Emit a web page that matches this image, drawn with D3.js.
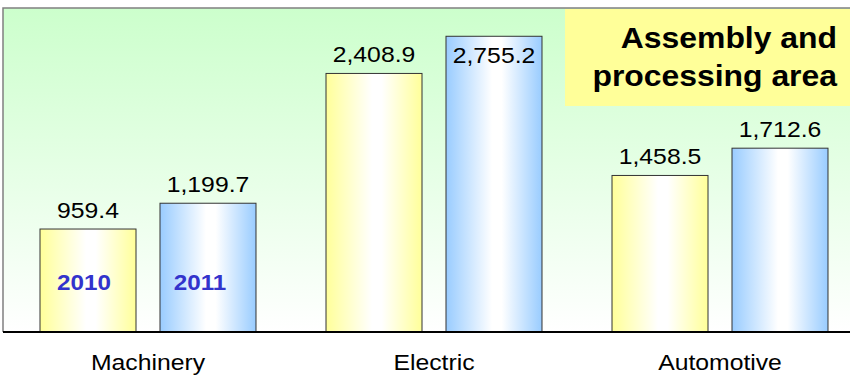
<!DOCTYPE html>
<html><head><meta charset="utf-8">
<script src="https://cdn.jsdelivr.net/npm/d3@7"></script>
<style>html,body{margin:0;padding:0;background:#fff;}svg{display:block;font-family:"Liberation Sans",Arial,sans-serif;}</style>
</head><body><svg id="c" width="850" height="377"></svg>
<script>
const categories = ["Machinery", "Electric", "Automotive"];
const years = ["2010", "2011"];
const values2010 = [959.4, 2408.9, 1458.5];
const values2011 = [1199.7, 2755.2, 1712.6];
const titleLines = ["Assembly and", "processing area"];

const svg = d3.select("#c");
const plot = {left: 3, top: 8, right: 850, bottom: 332};

const defs = svg.append("defs");
const bg = defs.append("linearGradient").attr("id","bg").attr("x1",0).attr("y1",0).attr("x2",0).attr("y2",1);
bg.append("stop").attr("offset","0%").attr("stop-color","#ccffcc");
bg.append("stop").attr("offset","100%").attr("stop-color","#ffffff");
function hgrad(id, c){
  const g = defs.append("linearGradient").attr("id",id).attr("x1",0).attr("y1",0).attr("x2",1).attr("y2",0);
  g.append("stop").attr("offset","0%").attr("stop-color",c);
  g.append("stop").attr("offset","48%").attr("stop-color","#ffffff");
  g.append("stop").attr("offset","58%").attr("stop-color","#ffffff");
  g.append("stop").attr("offset","100%").attr("stop-color",c);
}
hgrad("gy","#ffff99");
hgrad("gb","#99ccff");

svg.append("rect").attr("x",plot.left).attr("y",plot.top).attr("width",plot.right-plot.left).attr("height",plot.bottom-plot.top).attr("fill","url(#bg)");
svg.append("path").attr("d",`M${plot.left},${plot.bottom}V${plot.top}H${plot.right}`).attr("fill","none").attr("stroke","#808080").attr("stroke-width",1.5);

const y = d3.scaleLinear().domain([0,3000]).range([plot.bottom, 10]);
const x0 = d3.scaleBand().domain(categories).range([5,863]).paddingInner(0.2448).paddingOuter(0.1224);
const x1 = d3.scaleBand().domain(years).range([0, x0.bandwidth()]).paddingInner(0.2).paddingOuter(0);

const data = [];
categories.forEach((c,i)=>{
  data.push({cat:c, year:"2010", v:values2010[i]});
  data.push({cat:c, year:"2011", v:values2011[i]});
});

function stretchedText(sel, x, yy, txt, size, weight, anchor, fill){
  const g = sel.append("g").attr("transform",`translate(${x},${yy}) scale(1.1,1)`);
  g.append("text").attr("x",0).attr("y",0).attr("text-anchor",anchor).attr("font-size",size).attr("font-weight",weight).attr("fill",fill).text(txt);
  return g;
}

const bars = svg.append("g");
data.forEach(d=>{
  const bx = x0(d.cat) + x1(d.year);
  bars.append("rect").attr("x",bx).attr("y",y(d.v)).attr("width",x1.bandwidth()).attr("height",plot.bottom - y(d.v))
    .attr("fill", d.year==="2010" ? "url(#gy)" : "url(#gb)").attr("stroke","#333").attr("stroke-width",1);
});

svg.append("rect").attr("x",565).attr("y",9).attr("width",285).attr("height",97).attr("fill","#ffff99");
stretchedText(svg, 837, 48, titleLines[0], 29, "bold", "end", "#000");
stretchedText(svg, 837, 86, titleLines[1], 29, "bold", "end", "#000");

const fmt = d3.format(",.1f");
data.forEach(d=>{
  const cx = x0(d.cat) + x1(d.year) + x1.bandwidth()/2;
  let ty = y(d.v) - 11.5;
  if (ty < 45) ty = y(d.v) + 27;
  stretchedText(svg, cx, ty, fmt(d.v), 22.5, "normal", "middle", "#000");
});

years.forEach((yr,i)=>{
  const cx = x0(categories[0]) + x1(yr) + x1.bandwidth()/2 - (i===0?4:8);
  stretchedText(svg, cx, 290, yr, 22, "bold", "middle", "#3333cc");
});

svg.append("line").attr("x1",plot.left).attr("x2",plot.right).attr("y1",plot.bottom).attr("y2",plot.bottom).attr("stroke","#000").attr("stroke-width",2);

categories.forEach(c=>{
  stretchedText(svg, x0(c)+x0.bandwidth()/2, 370, c, 22.5, "normal", "middle", "#000");
});
</script></body></html>
